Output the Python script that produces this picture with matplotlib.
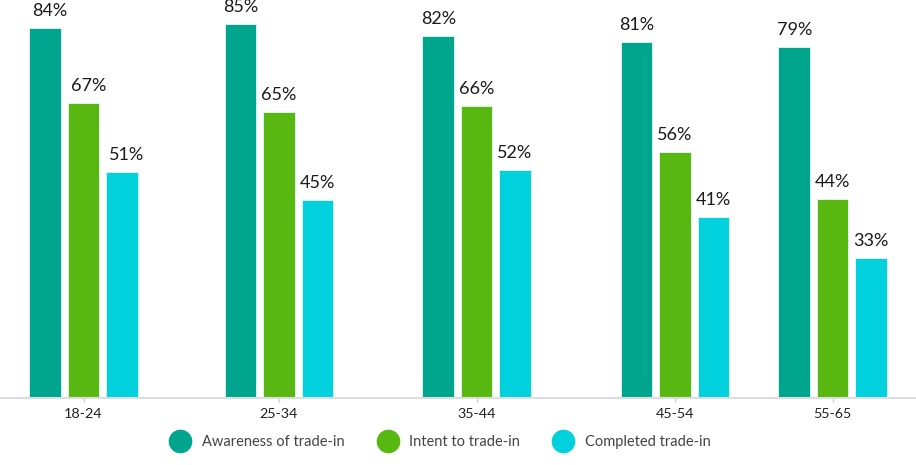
import matplotlib
matplotlib.use("Agg")
import matplotlib.pyplot as plt
from matplotlib.lines import Line2D

# data (bar heights, labels as printed)
age_groups = ["18-24", "25-34", "35-44", "45-54", "55-65"]
awareness = [84, 85, 82.3, 81, 79.7]
intent = [67, 65, 66.3, 56, 45.2]
completed = [51.3, 45, 51.8, 41.2, 31.9]
awareness_labels = ["84%", "85%", "82%", "81%", "79%"]
intent_labels = ["67%", "65%", "66%", "56%", "44%"]
completed_labels = ["51%", "45%", "52%", "41%", "33%"]
series_names = ["Awareness of trade-in", "Intent to trade-in", "Completed trade-in"]

# layout (pixel units across the figure width)
group_x = [83.5, 279, 476.5, 675, 832.5]
label_shift = [5, 0, 0, 0, 0]
bar_w = 31.5
bar_step = 38.3
colors = ["#00A58E", "#58B811", "#00D1DC"]

plt.rcParams["font.family"] = ["Lato", "DejaVu Sans"]

fig = plt.figure(figsize=(9.16, 4.65), dpi=100)
ax = fig.add_axes([0, 67 / 465, 1, 398 / 465])

all_vals = [awareness, intent, completed]
all_labels = [awareness_labels, intent_labels, completed_labels]
for i, (vals, labs, col) in enumerate(zip(all_vals, all_labels, colors)):
    xs = [g + (i - 1) * bar_step for g in group_x]
    bars = ax.bar(xs, vals, width=bar_w, color=col, edgecolor="#e6f7f4", linewidth=0.6)
    for b, v, lab, sh in zip(bars, vals, labs, label_shift):
        ax.annotate(lab, (b.get_x() + b.get_width() / 2, v),
                    xytext=(sh * 0.72, 8.6), textcoords="offset points",
                    ha="center", va="baseline", fontsize=13, color="#1a1a1a")

ax.set_xlim(0, 916)
ax.set_ylim(0, 90.45)
ax.set_xticks(group_x)
ax.set_xticklabels(age_groups, fontsize=10.3, color="#222222")
ax.tick_params(axis="x", length=3, width=1, color="#cccccc", pad=4)
ax.set_yticks([])
for s in ["top", "left", "right"]:
    ax.spines[s].set_visible(False)
ax.spines["bottom"].set_color("#dddddd")
ax.spines["bottom"].set_linewidth(1.5)

handles = [Line2D([], [], marker="o", linestyle="none", markersize=16,
                  markerfacecolor=c, markeredgecolor=c) for c in colors]
fig.legend(handles, series_names, loc="center", ncol=3,
           bbox_to_anchor=(440 / 916, 1 - 442 / 465), frameon=False,
           fontsize=10.5, labelcolor="#444444", handlelength=1.5,
           handletextpad=0.75, columnspacing=2.2, borderpad=0)

fig.savefig("out.png", dpi=100)
